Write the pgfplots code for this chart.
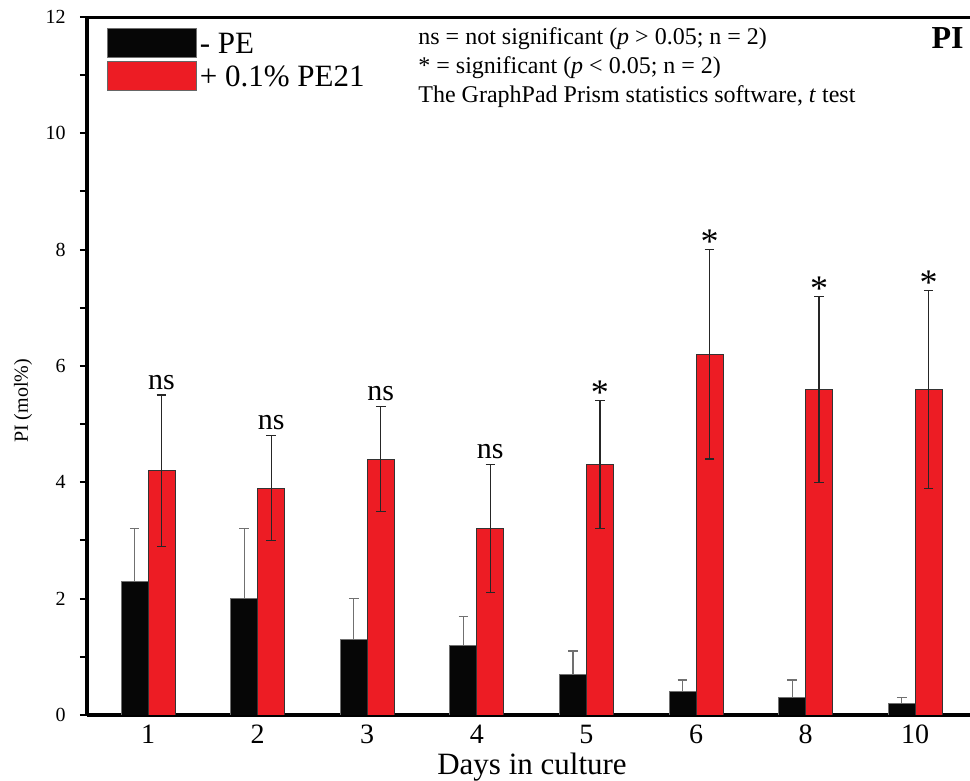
\documentclass[border=0pt]{standalone}
\usepackage{fontspec}
\setmainfont{Liberation Serif}
\usepackage{pgfplots}
\pgfplotsset{compat=1.18}
\definecolor{barred}{HTML}{ED1C24}
\definecolor{barblack}{HTML}{060606}
\definecolor{errgray}{HTML}{707070}

\begin{document}
\begin{tikzpicture}
\begin{axis}[
  at={(0,0)}, anchor=south west,
  scale only axis, width=441.5pt, height=349pt,
  xmin=-0.557, xmax=7.5, ymin=0, ymax=12,
  axis x line*=bottom, axis y line*=left,
  axis line style={line width=1.6pt},
  xtick={0,...,7}, xticklabels={1,2,3,4,5,6,8,10},
  x tick style={draw=none},
  ytick={0,2,...,12}, minor ytick={1,3,...,11},
  tick align=outside, major tick length=3.5pt, minor tick length=3.5pt,
  y tick style={line width=1pt, black},
  /pgf/number format/assume math mode=true,
  yticklabel style={font=\fontsize{10}{12}\selectfont, xshift=-3.7pt},
  xticklabel style={font=\fontsize{14}{16}\selectfont, anchor=base, yshift=-11pt},
  ylabel={PI (mol\%)},
  ylabel style={font=\fontsize{10}{12}\selectfont, at={(axis description cs:0,0.45)}, anchor=center, yshift=32pt},
  xlabel={Days in culture},
  xlabel style={font=\fontsize{15.5}{18}\selectfont, at={(axis description cs:0.504,0)}, anchor=base, yshift=-30pt},
  legend cell align=left,
  legend style={at={(rel axis cs:0,1)}, anchor=north west, xshift=10pt, yshift=-5.5pt,
    draw=none, fill=none, inner sep=0pt, outer sep=0pt, row sep=-1pt, column sep=1.5pt,
    font=\fontsize{15.5}{18}\selectfont,
    nodes={inner sep=0pt, text height=10pt, text depth=4.5pt}},
]
\addplot[ybar, bar width=0.246, bar shift=0, fill=barblack, draw=errgray, line width=0.4pt,
  legend image code/.code={\draw[fill=barblack, draw=errgray, line width=0.4pt] (0pt,-4.5pt) rectangle (44.5pt,10pt);},
  error bars/.cd, y dir=plus, y explicit,
  error bar style={line width=0.6pt, errgray},
  error mark options={rotate=90, errgray, mark size=2.4pt, line width=0.6pt}]
  coordinates {
  (-0.123,2.3) +- (0,0.9)
  (0.877,2.0) +- (0,1.2)
  (1.877,1.3) +- (0,0.7)
  (2.877,1.2) +- (0,0.5)
  (3.877,0.7) +- (0,0.4)
  (4.877,0.4) +- (0,0.2)
  (5.877,0.3) +- (0,0.3)
  (6.877,0.2) +- (0,0.1)
  };
\addlegendentry{- PE}
\addplot[ybar, bar width=0.246, bar shift=0, fill=barred, draw=black!80, line width=0.4pt,
  legend image code/.code={\draw[fill=barred, draw=black!60, line width=0.4pt] (0pt,-4.5pt) rectangle (44.5pt,10pt);},
  error bars/.cd, y dir=both, y explicit,
  error bar style={line width=0.6pt, black!85},
  error mark options={rotate=90, black!85, mark size=2.4pt, line width=0.6pt}]
  coordinates {
  (0.123,4.2) +- (0,1.3)
  (1.123,3.9) +- (0,0.9)
  (2.123,4.4) +- (0,0.9)
  (3.123,3.2) +- (0,1.1)
  (4.123,4.3) +- (0,1.1)
  (5.123,6.2) +- (0,1.8)
  (6.123,5.6) +- (0,1.6)
  (7.123,5.6) +- (0,1.7)
  };
\addlegendentry{+ 0.1\% PE21}
% significance labels
\addplot[draw=none, mark=none, forget plot, nodes near coords, point meta=explicit symbolic,
  nodes near coords style={anchor=base, yshift=3pt, font=\fontsize{15}{18}\selectfont, inner sep=0pt}]
  coordinates {(0.123,5.5)[ns] (1.123,4.8)[ns] (2.123,5.3)[ns] (3.123,4.3)[ns]};
\addplot[draw=none, mark=none, forget plot, nodes near coords, point meta=explicit symbolic,
  nodes near coords style={anchor=base, yshift=-2pt, font=\fontsize{18}{20}\selectfont, inner sep=0pt}]
  coordinates {(4.123,5.4)[*] (5.123,8.0)[*] (6.123,7.2)[*] (7.123,7.3)[*]};
\draw[line width=2pt] ([xshift=-3.5pt]rel axis cs:0,1) -- (rel axis cs:1,1);
\node[anchor=base west, inner sep=0pt, font=\fontsize{12}{14}\selectfont] at ([xshift=165.5pt,yshift=-14pt]rel axis cs:0,1) {ns = not significant (\textit{p} > 0.05; n = 2)};
\node[anchor=base west, inner sep=0pt, font=\fontsize{12}{14}\selectfont] at ([xshift=165.5pt,yshift=-28.5pt]rel axis cs:0,1) {* = significant (\textit{p} < 0.05; n = 2)};
\node[anchor=base west, inner sep=0pt, font=\fontsize{12}{14}\selectfont] at ([xshift=165.5pt,yshift=-43pt]rel axis cs:0,1) {The GraphPad Prism statistics software, \textit{t} test};
\node[anchor=base east, inner sep=0pt, font=\fontsize{16}{18}\selectfont\bfseries] at ([xshift=-3pt,yshift=-16pt]rel axis cs:1,1) {PI};
\end{axis}
\pgfresetboundingbox
\useasboundingbox (-43.5pt,-33pt) rectangle (441.5pt,357.5pt);
\end{tikzpicture}
\end{document}
